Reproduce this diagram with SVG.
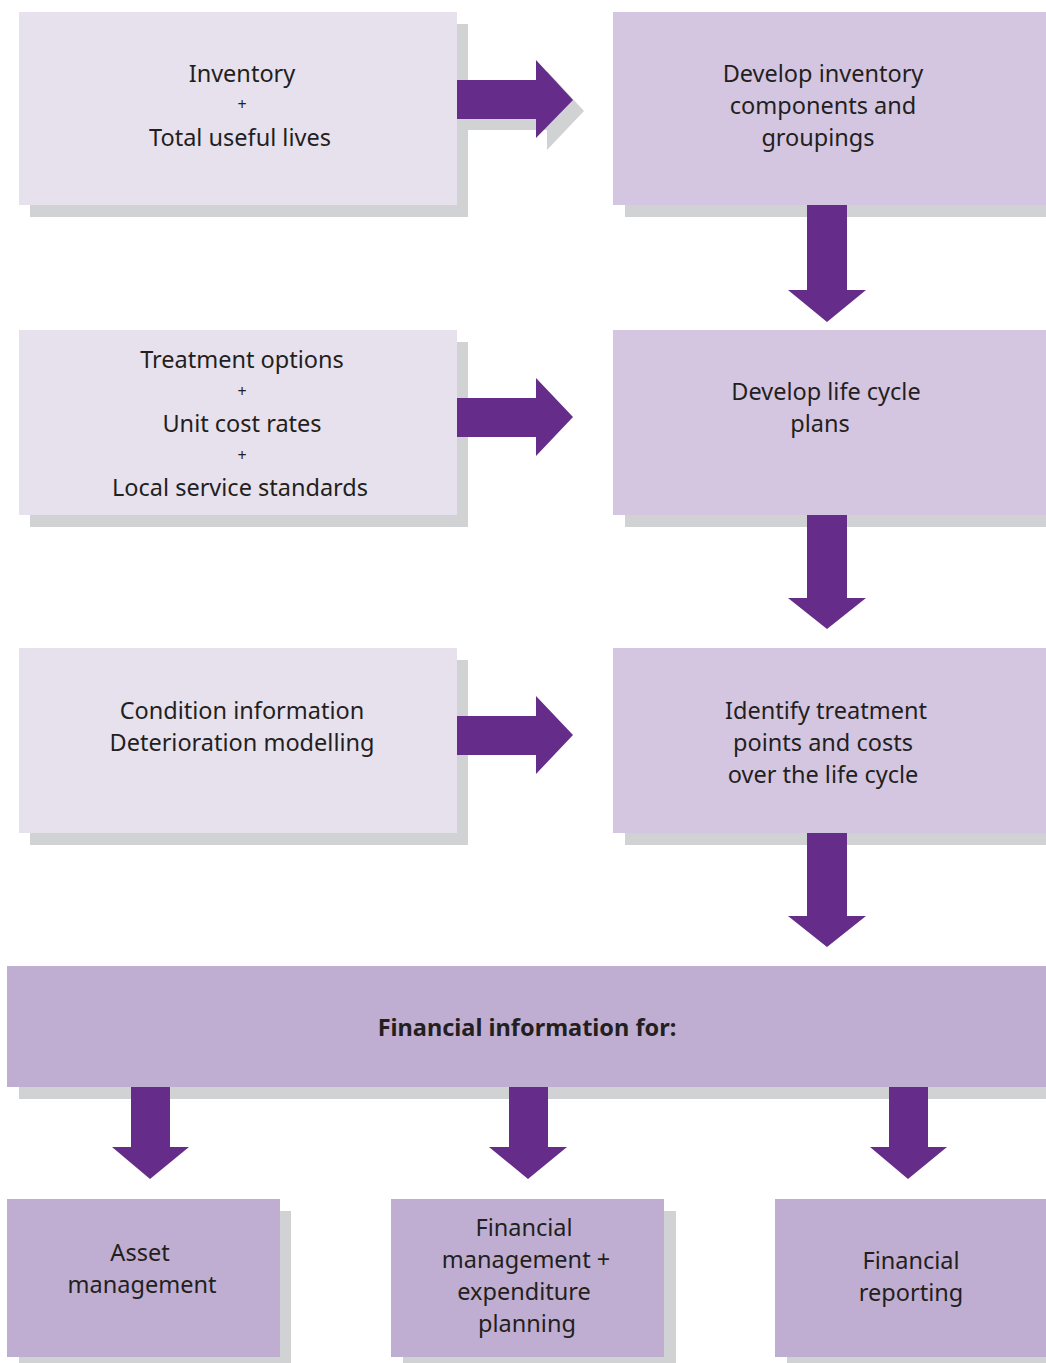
<svg xmlns="http://www.w3.org/2000/svg" width="1046" height="1363" viewBox="0 0 1046 1363">
<style>
.sh{fill:#D1D2D4}
.l{fill:#E7E1EE}
.r{fill:#D4C6E0}
.b{fill:#BFAED1}
.ar{fill:#652D89}
text{font-family:"Noto Sans","Open Sans","Liberation Sans",sans-serif;font-size:23.5px;fill:#231F20;text-anchor:middle}
.p{font-size:16px}
.bold{font-weight:bold}
</style>
<rect width="1046" height="1363" fill="#FFFFFF"/>
<g id="n1"><rect class="sh" x="30" y="24" width="438" height="193"/><rect class="l" x="19" y="12" width="438" height="193"/>
<text x="242" y="82">Inventory</text><text class="p" x="242" y="110">+</text><text x="240" y="146">Total useful lives</text></g>
<g id="n2"><rect class="sh" x="625" y="24" width="421" height="193"/><rect class="r" x="613" y="12" width="433" height="193"/>
<text x="823" y="82">Develop inventory</text><text x="823" y="114">components and</text><text x="818" y="146">groupings</text></g>
<g id="n3"><rect class="sh" x="30" y="342" width="438" height="185"/><rect class="l" x="19" y="330" width="438" height="185"/>
<text x="242" y="368">Treatment options</text><text class="p" x="242" y="397">+</text><text x="242" y="432">Unit cost rates</text><text class="p" x="242" y="461">+</text><text x="240" y="496">Local service standards</text></g>
<g id="n4"><rect class="sh" x="625" y="342" width="421" height="185"/><rect class="r" x="613" y="330" width="433" height="185"/>
<text x="826" y="400">Develop life cycle</text><text x="820" y="432">plans</text></g>
<g id="n5"><rect class="sh" x="30" y="660" width="438" height="185"/><rect class="l" x="19" y="648" width="438" height="185"/>
<text x="242" y="719">Condition information</text><text x="242" y="751">Deterioration modelling</text></g>
<g id="n6"><rect class="sh" x="625" y="660" width="421" height="185"/><rect class="r" x="613" y="648" width="433" height="185"/>
<text x="826" y="719">Identify treatment</text><text x="823" y="751">points and costs</text><text x="823" y="783">over the life cycle</text></g>
<g id="n7"><rect class="sh" x="19" y="978" width="1027" height="121"/><rect class="b" x="7" y="966" width="1039" height="121"/>
<text class="bold" x="527" y="1036">Financial information for:</text></g>
<g id="n8"><rect class="sh" x="19" y="1211" width="272" height="152"/><rect class="b" x="7" y="1199" width="273" height="158"/>
<text x="140" y="1261">Asset</text><text x="142" y="1293">management</text></g>
<g id="n9"><rect class="sh" x="403" y="1211" width="273" height="152"/><rect class="b" x="391" y="1199" width="273" height="158"/>
<text x="524" y="1236">Financial</text><text x="526" y="1268">management +</text><text x="524" y="1300">expenditure</text><text x="527" y="1332">planning</text></g>
<g id="n10"><rect class="sh" x="787" y="1211" width="259" height="152"/><rect class="b" x="775" y="1199" width="271" height="158"/>
<text x="911" y="1269">Financial</text><text x="911" y="1301">reporting</text></g>
<g id="connectors">
<polygon class="sh" points="468,91 547,91 547,71 584,111 547,150 547,130 468,130"/>
<polygon class="ar" points="457,80 536,80 536,60 573,100 536,138 536,119 457,119"/>
<polygon class="ar" points="457,398 536,398 536,378 573,417 536,456 536,437 457,437"/>
<polygon class="ar" points="457,716 536,716 536,696 573,735 536,774 536,755 457,755"/>
<polygon class="ar" points="807,205 847,205 847,290 866,290 827,322 788,290 807,290"/>
<polygon class="ar" points="807,515 847,515 847,598 866,598 827,629 788,598 807,598"/>
<polygon class="ar" points="807,833 847,833 847,916 866,916 827,947 788,916 807,916"/>
<polygon class="ar" points="131,1087 170,1087 170,1147 189,1147 150,1179 112,1147 131,1147"/>
<polygon class="ar" points="509,1087 548,1087 548,1147 567,1147 528,1179 489,1147 509,1147"/>
<polygon class="ar" points="889,1087 928,1087 928,1147 947,1147 908,1179 870,1147 889,1147"/>
</g>
</svg>
